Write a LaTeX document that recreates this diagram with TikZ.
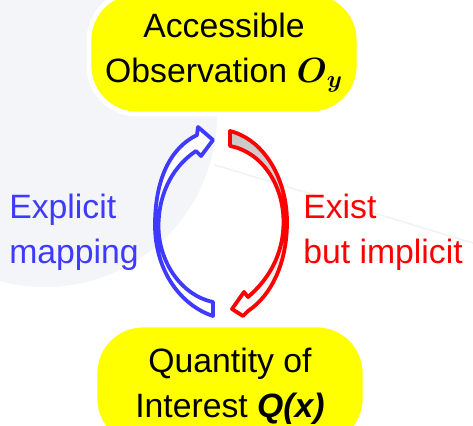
\documentclass[tikz,border=0pt]{standalone}
\usepackage{amsmath}
\usepackage{fontspec}
\setmainfont{Liberation Sans}
\usepackage{xcolor}
\definecolor{boxYellow}{HTML}{FFFF00}
\definecolor{mapBlue}{HTML}{3F3AFF}
\definecolor{mapRed}{HTML}{FF0000}
\definecolor{bgTint}{HTML}{F3F5F8}
\usepackage{tikz}

\tikzset{
  yellowbox/.style={fill=boxYellow, draw=white, line width=0.12cm, rounded corners=1.2cm,
    minimum width=6.75cm, minimum height=3.05cm, align=center,
    font=\fontsize{24}{32}\selectfont},
  sidetext/.style={font=\fontsize{24}{32}\selectfont, align=left, inner sep=0pt, anchor=west},
  bentarrow/.style={line width=0.095cm, line join=round},
}

\begin{document}
\begin{tikzpicture}[x=0.025cm, y=-0.025cm]
  \useasboundingbox (0,0) rectangle (473,426);
  \clip (0,0) rectangle (473,426);
  % faint backdrop
  \fill[bgTint] (45,115) circle (172);
  \draw[black!5, line width=0.04cm] (215,165) -- (473,243);
  % top: what can be observed, bottom: what we want
  \node[yellowbox] (obs) at (224,53) {Accessible\\Observation $\boldsymbol{O}_{\boldsymbol{y}}$};
  \node[yellowbox] (qoi) at (230,386) {Quantity of\\Interest \textbf{\textit{Q(x)}}};
  % side labels
  \node[sidetext, text=mapBlue] (expl) at (9,232) {Explicit\\mapping};
  \node[sidetext, text=mapRed] (impl) at (303,232) {Exist\\but implicit};
  % left arrow, going up
  \draw[bentarrow, mapBlue, fill=white]
    (213,316) .. controls (180,305) and (155,270) .. (155,225)
    .. controls (155,180) and (170,148) .. (197,135)
    -- (198,127) -- (213,140) -- (201,156) -- (196,151)
    .. controls (175,165) and (159,190) .. (158.5,225)
    .. controls (158,260) and (180,295) .. (213,302) -- cycle;
  % right arrow, going down
  \draw[bentarrow, mapRed, top color=black!22, middle color=white, bottom color=white]
    (230,131) .. controls (265,140) and (287,180) .. (287,222)
    .. controls (287,262) and (272,295) .. (248,311)
    -- (243,316) -- (232,309) -- (244,292) -- (248,297)
    .. controls (268,280) and (283.5,255) .. (283.5,222)
    .. controls (283.5,185) and (262,152) .. (230,146) -- cycle;
\end{tikzpicture}
\end{document}
